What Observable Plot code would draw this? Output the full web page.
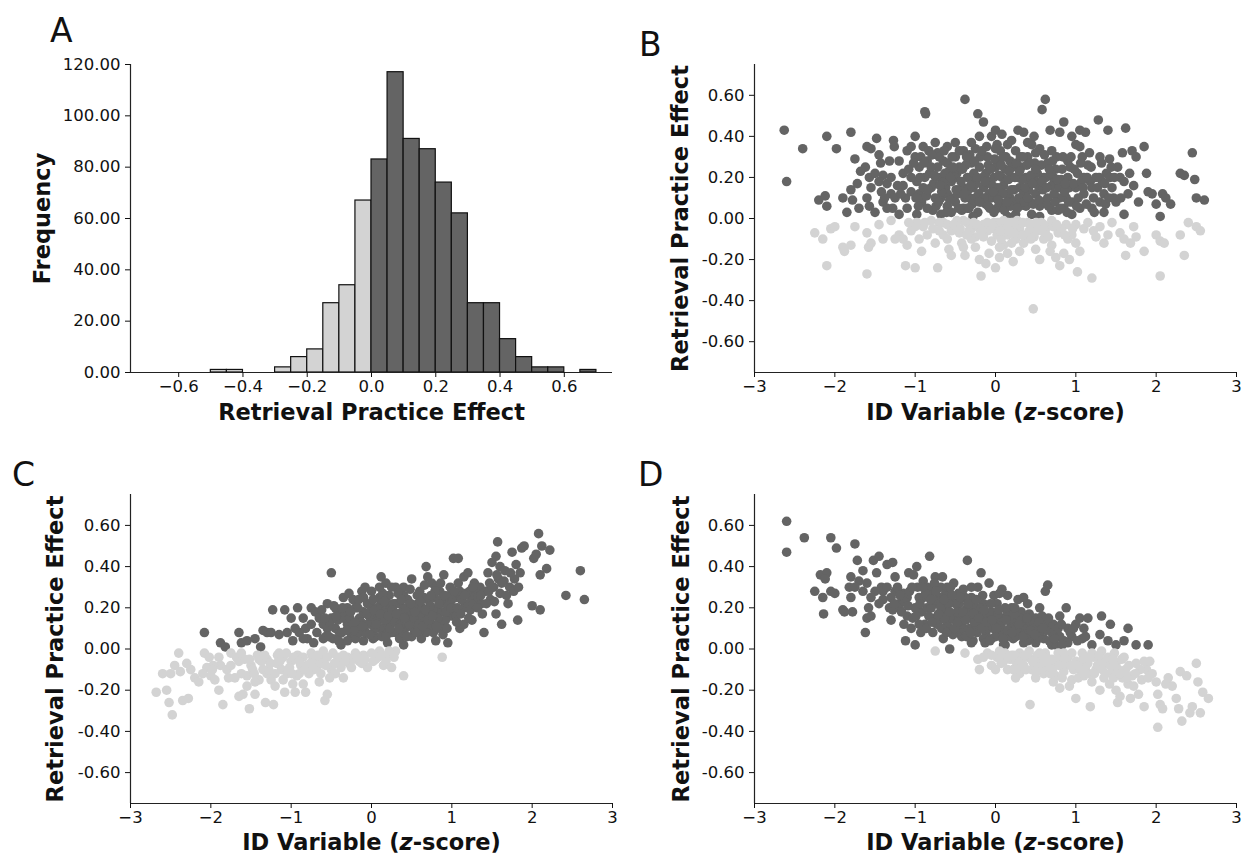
<!DOCTYPE html>
<html><head><meta charset="utf-8">
<script src="https://cdn.jsdelivr.net/npm/d3@7"></script>
<script src="https://cdn.jsdelivr.net/npm/@observablehq/plot@0.6"></script>
<style>
body{margin:0;background:#fff;}
#wrap{position:relative;width:1247px;height:856px;overflow:hidden;background:#fff;}
.panel{position:absolute;}
g[aria-label="y-axis label"], g[aria-label="x-axis label"]{font-weight:bold;font-size:22.5px;}
</style></head><body><div id="wrap"></div>
<script>
// Panel A histogram (bin start, bin width 0.05)
const binStarts = [-0.5,-0.45,-0.4,-0.35,-0.3,-0.25,-0.2,-0.15,-0.1,-0.05,0,0.05,0.1,0.15,0.2,0.25,0.3,0.35,0.4,0.45,0.5,0.55,0.6,0.65];
const binCounts = [1,1,0,0,2,6,9,27,34,67,83,117,91,87,74,62,27,27,13,6,2,2,0,1];
const binWidth = 0.05;
const histTicksX = [-0.6,-0.4,-0.2,0,0.2,0.4,0.6];
const histTicksY = [0,20,40,60,80,100,120];

// Panels B, C, D: [ID variable z-score, retrieval practice effect]
const panelB = [
[-2.63,0.43],[-2.6,0.18],[-2.4,0.34],[-2.2,0.09],[-2.12,0.11],[-2.1,0.4],[-2.1,0.06],[-1.98,0.34],[-1.8,0.42],[-1.75,0.29],
[-1.85,0.03],[-1.8,0.14],[-1.78,0.09],[-1.72,0.17],[-1.68,0.23],[-1.6,0.35],[-1.55,0.34],[-1.57,0.2],[-1.55,0.15],[-1.6,0.1],
[-1.57,0.06],[-1.5,0.03],[-1.48,0.39],[-1.45,0.31],[-1.43,0.27],[-1.4,0.21],[-1.42,0.13],[-1.4,0.08],[-1.35,0.17],[-1.3,0.12],
[-1.28,0.05],[-1.27,0.38],[-1.26,0.35],[-1.2,0.02],[-1.15,0.16],[-1.12,0.1],[-1.1,0.33],[-1.05,0.35],[-1.0,0.4],[-1.0,0.3],
[-0.98,0.18],[-0.95,0.12],[-0.92,0.08],[-0.88,0.52],[-0.87,0.51],[-0.85,0.28],[-0.82,0.22],[-0.8,0.15],[-0.78,0.04],[-0.75,0.37],
[-0.72,0.32],[-0.7,0.2],[-0.68,0.1],[-0.65,0.28],[-0.62,0.15],[-0.6,0.06],[-0.58,0.23],[-0.55,0.18],[-0.52,0.1],[-0.5,0.3],
[-0.48,0.22],[-0.45,0.14],[-0.42,0.04],[-0.4,0.33],[-0.38,0.58],[-0.35,0.2],[-0.32,0.1],[-0.3,0.27],[-0.28,0.15],[-0.25,0.34],
[-0.22,0.51],[-0.2,0.4],[-0.18,0.08],[-0.15,0.47],[-0.12,0.22],[-0.1,0.3],[-0.08,0.12],[-0.05,0.4],[-0.02,0.2],[0.0,0.43],
[0.02,0.05],[0.05,0.28],[0.08,0.41],[0.1,0.16],[0.12,0.24],[0.15,0.36],[0.18,0.1],[0.2,0.2],[0.25,0.33],[0.28,0.43],
[0.3,0.15],[0.32,0.25],[0.35,0.42],[0.38,0.06],[0.4,0.3],[0.42,0.18],[0.45,0.36],[0.48,0.4],[0.5,0.12],[0.52,0.22],
[0.55,0.34],[0.58,0.53],[0.62,0.58],[0.6,0.08],[0.65,0.27],[0.68,0.43],[0.7,0.16],[0.75,0.24],[0.78,0.04],[0.8,0.42],
[0.82,0.19],[0.85,0.47],[0.88,0.1],[0.9,0.28],[0.92,0.15],[0.95,0.4],[1.0,0.36],[1.02,0.22],[1.05,0.43],[1.08,0.3],
[1.1,0.12],[1.12,0.42],[1.15,0.26],[1.18,0.18],[1.2,0.05],[1.25,0.2],[1.28,0.48],[1.3,0.3],[1.35,0.12],[1.38,0.22],
[1.4,0.43],[1.42,0.29],[1.45,0.15],[1.5,0.08],[1.52,0.25],[1.55,0.2],[1.58,0.32],[1.6,0.02],[1.62,0.44],[1.65,0.12],
[1.7,0.33],[1.72,0.16],[1.75,0.3],[1.78,0.08],[1.85,0.35],[1.88,0.22],[1.9,0.13],[1.95,0.12],[2.0,0.07],[2.05,0.01],
[2.08,0.12],[2.12,0.1],[2.18,0.07],[2.3,0.22],[2.35,0.21],[2.45,0.32],[2.48,0.19],[2.5,0.1],[2.6,0.09],
[-1.1,0.05],[-1.05,0.2],[-0.95,0.25],[-0.9,0.15],[-0.85,0.05],[-0.75,0.1],[-0.72,0.25],[-0.65,0.18],[-0.6,0.12],[-0.55,0.03],
[-0.5,0.08],[-0.45,0.25],[-0.4,0.15],[-0.38,0.1],[-0.35,0.05],[-0.3,0.2],[-0.25,0.1],[-0.22,0.03],[-0.2,0.25],[-0.15,0.15],
[-0.12,0.07],[-0.1,0.18],[-0.05,0.1],[-0.02,0.03],[0.0,0.25],[0.03,0.15],[0.05,0.08],[0.08,0.2],[0.12,0.05],[0.15,0.12],
[0.18,0.28],[0.22,0.08],[0.25,0.02],[0.28,0.2],[0.3,0.06],[0.35,0.12],[0.38,0.2],[0.42,0.09],[0.45,0.02],[0.5,0.18],
[0.55,0.06],[0.6,0.2],[0.65,0.1],[0.7,0.04],[0.72,0.2],[0.8,0.1],[0.85,0.05],[0.9,0.2],[0.95,0.08],[1.0,0.15],
[1.05,0.05],[1.1,0.2],[1.2,0.15],[1.3,0.08],[1.35,0.03],[-0.9,0.35],[-0.6,0.35],[-0.3,0.37],[0.2,0.38],[0.5,0.32],
[-1.3,0.2],[-1.2,0.28],[-0.98,0.02],[-0.68,0.02],[-0.28,0.01],[0.15,0.01],[0.55,0.01],[0.95,0.02],
[-1.15,0.22],[-1.05,0.13],[-1.02,0.27],[-0.96,0.06],[-0.93,0.3],[-0.88,0.2],[-0.86,0.11],[-0.83,0.33],[-0.8,0.25],[-0.77,0.17],
[-0.74,0.06],[-0.7,0.3],[-0.67,0.13],[-0.63,0.22],[-0.6,0.27],[-0.57,0.09],[-0.54,0.3],[-0.5,0.2],[-0.47,0.12],[-0.45,0.33],
[-0.43,0.18],[-0.4,0.05],[-0.37,0.26],[-0.34,0.14],[-0.32,0.31],[-0.29,0.07],[-0.27,0.22],[-0.24,0.17],[-0.21,0.12],[-0.19,0.3],
[-0.16,0.2],[-0.14,0.1],[-0.11,0.35],[-0.09,0.26],[-0.07,0.05],[-0.04,0.16],[-0.01,0.29],[0.01,0.11],[0.04,0.21],[0.06,0.33],
[0.09,0.12],[0.11,0.04],[0.13,0.3],[0.16,0.19],[0.19,0.06],[0.21,0.25],[0.23,0.14],[0.26,0.27],[0.29,0.1],[0.31,0.3],
[0.33,0.19],[0.36,0.08],[0.39,0.26],[0.41,0.14],[0.44,0.21],[0.47,0.07],[0.49,0.27],[0.53,0.16],[0.57,0.26],[0.59,0.14],
[0.63,0.2],[0.66,0.06],[0.69,0.22],[0.73,0.12],[0.76,0.3],[0.79,0.15],[0.83,0.24],[0.86,0.13],[0.89,0.03],[0.93,0.25],
[0.97,0.17],[1.03,0.1],[1.07,0.18],[1.13,0.07],[1.17,0.32],[1.22,0.1],[1.27,0.15],[1.33,0.18],[1.37,0.07],[1.43,0.2],
[1.47,0.1],[-1.25,0.1],[-1.35,0.05],[-1.45,0.18],[-1.18,0.12],[0.02,0.36],[-0.5,0.37],[0.4,0.37],[0.7,0.33],[1.05,0.35],
[-1.22,0.16],[-1.08,0.24],[-0.99,0.1],[-0.94,0.2],[-0.89,0.27],[-0.84,0.14],[-0.79,0.31],[-0.76,0.21],[-0.71,0.08],[-0.69,0.16],
[-0.64,0.33],[-0.61,0.03],[-0.56,0.2],[-0.53,0.25],[-0.49,0.14],[-0.46,0.05],[-0.41,0.24],[-0.39,0.12],[-0.36,0.3],[-0.33,0.05],
[-0.31,0.16],[-0.26,0.28],[-0.23,0.2],[-0.2,0.08],[-0.17,0.33],[-0.13,0.18],[-0.09,0.06],[-0.06,0.24],[-0.03,0.13],[0.0,0.34],
[0.03,0.09],[0.07,0.26],[0.1,0.3],[0.14,0.08],[0.17,0.23],[0.2,0.14],[0.24,0.2],[0.27,0.05],[0.3,0.23],[0.34,0.3],
[0.37,0.15],[0.4,0.1],[0.43,0.27],[0.46,0.17],[0.5,0.24],[0.54,0.09],[0.58,0.18],[0.61,0.31],[0.64,0.15],[0.67,0.24],
[0.71,0.28],[0.74,0.08],[0.77,0.19],[0.81,0.05],[0.84,0.3],[0.87,0.17],[0.91,0.08],[0.94,0.3],[0.98,0.24],[1.01,0.06],
[1.06,0.27],[1.09,0.15],[1.14,0.2],[1.19,0.25],[1.23,0.03],[1.29,0.2],[1.32,0.27],[1.36,0.17],[1.41,0.1],[1.44,0.25],
[1.48,0.2],[1.56,0.1],[1.6,0.18],[1.67,0.22],[-1.32,0.28],[-1.38,0.1],[-1.5,0.22],[-1.62,0.25],[-1.7,0.05],[-1.9,0.1],
[-2.25,-0.07],[-2.15,-0.1],[-2.1,-0.23],[-2.05,-0.05],[-2.0,-0.04],[-1.9,-0.14],[-1.88,-0.16],[-1.8,-0.13],[-1.75,-0.04],[-1.6,-0.07],
[-1.6,-0.27],[-1.58,-0.14],[-1.55,-0.12],[-1.45,-0.03],[-1.3,-0.01],[-1.25,-0.1],[-1.2,-0.08],[-1.15,-0.1],[-1.12,-0.23],[-1.1,-0.13],
[-1.05,-0.06],[-1.0,-0.24],[-0.98,-0.02],[-0.92,-0.16],[-0.9,-0.04],[-0.85,-0.08],[-0.75,-0.12],[-0.72,-0.24],[-0.7,-0.06],[-0.65,-0.02],
[-0.6,-0.1],[-0.58,-0.15],[-0.55,-0.18],[-0.5,-0.04],[-0.45,-0.07],[-0.42,-0.12],[-0.38,-0.18],[-0.35,-0.02],[-0.3,-0.05],[-0.25,-0.09],
[-0.2,-0.2],[-0.18,-0.28],[-0.15,-0.03],[-0.12,-0.22],[-0.1,-0.06],[-0.08,-0.17],[-0.05,-0.11],[-0.02,-0.02],[0.0,-0.24],[0.02,-0.08],
[0.05,-0.19],[0.08,-0.04],[0.1,-0.13],[0.12,-0.06],[0.15,-0.17],[0.2,-0.02],[0.22,-0.21],[0.25,-0.1],[0.3,-0.05],[0.35,-0.12],
[0.38,-0.08],[0.45,-0.03],[0.47,-0.44],[0.5,-0.15],[0.52,-0.06],[0.55,-0.2],[0.6,-0.1],[0.65,-0.04],[0.7,-0.13],[0.75,-0.19],
[0.78,-0.07],[0.8,-0.23],[0.85,-0.17],[0.88,-0.03],[0.92,-0.2],[0.95,-0.08],[1.0,-0.12],[1.02,-0.26],[1.05,-0.16],[1.1,-0.05],
[1.2,-0.29],[1.25,-0.09],[1.35,-0.12],[1.4,-0.08],[1.45,-0.02],[1.55,-0.07],[1.6,-0.1],[1.62,-0.18],[1.68,-0.12],[1.72,-0.04],
[1.75,-0.09],[1.85,-0.16],[2.0,-0.08],[2.05,-0.11],[2.05,-0.28],[2.1,-0.12],[2.3,-0.08],[2.35,-0.18],[2.4,-0.02],[2.5,-0.04],
[2.55,-0.06],[-0.8,-0.01],[-0.4,-0.01],[-0.1,-0.02],[0.1,-0.01],[0.4,-0.02],[0.7,-0.01],[1.0,-0.03],[-0.2,-0.05],[0.25,-0.04],
[-0.6,-0.03],[0.6,-0.03],[0.0,-0.05],[0.15,-0.08],[-0.3,-0.1],
[-0.7,-0.02],[-0.55,-0.06],[-0.48,-0.01],[-0.33,-0.06],[-0.27,-0.02],[-0.15,-0.09],[-0.07,-0.05],[0.03,-0.02],[0.07,-0.1],[0.13,-0.03],
[0.18,-0.06],[0.27,-0.01],[0.33,-0.08],[0.42,-0.06],[0.48,-0.09],[0.57,-0.02],[0.62,-0.07],[0.72,-0.04],[0.82,-0.05],[0.9,-0.1],
[1.15,-0.02],[1.3,-0.04],[-1.0,-0.04],[-1.4,-0.1],[-0.95,-0.1],[-0.4,-0.14],[0.05,-0.14],[0.3,-0.16],[0.68,-0.16],
[-0.52,-0.03],[-0.44,-0.05],[-0.36,-0.08],[-0.23,-0.03],[-0.17,-0.06],[-0.04,-0.03],[0.06,-0.06],[0.16,-0.02],[0.23,-0.07],[0.34,-0.02],
[0.44,-0.1],[0.51,-0.02],[0.58,-0.06],[0.66,-0.09],[0.76,-0.03],[0.86,-0.08],[0.96,-0.05],[-0.88,-0.02],[-0.78,-0.05],[-1.08,-0.02],
[1.22,-0.06],[-0.25,-0.14],[0.2,-0.12],[-0.65,-0.08]
];

const panelC = [
[-2.08,0.08],[-1.88,0.03],[-1.82,0.01],[-1.65,0.08],[-1.62,0.03],[-1.55,0.04],[-1.45,0.05],[-1.38,0.01],[-1.35,0.09],[-1.3,0.08],
[-1.25,0.08],[-1.23,0.19],[-1.08,0.19],[-1.05,0.08],[-1.0,0.15],[-0.98,0.04],[-0.92,0.2],[-0.85,0.15],[-0.82,0.1],[-0.8,0.05],
[-0.75,0.2],[-0.7,0.18],[-0.68,0.08],[-0.6,0.12],[-0.55,0.22],[-0.5,0.37],[-0.5,0.15],[-0.48,0.05],[-0.45,0.1],[-0.4,0.18],
[-0.38,0.02],[-0.35,0.25],[-0.3,0.12],[-0.28,0.27],[-0.25,0.06],[-0.2,0.2],[-0.18,0.1],[-0.15,0.15],[-0.12,0.28],[-0.1,0.04],
[-0.08,0.3],[-0.05,0.22],[0.0,0.12],[0.0,0.28],[0.05,0.06],[0.08,0.18],[0.1,0.25],[0.12,0.35],[0.15,0.1],[0.18,0.32],
[0.2,0.03],[0.22,0.2],[0.25,0.15],[0.3,0.3],[0.3,0.08],[0.35,0.22],[0.4,0.02],[0.4,0.26],[0.45,0.16],[0.5,0.34],
[0.52,0.1],[0.55,0.2],[0.6,0.28],[0.62,0.05],[0.65,0.15],[0.68,0.4],[0.7,0.24],[0.72,0.1],[0.75,0.32],[0.78,0.18],
[0.8,0.04],[0.85,0.28],[0.88,0.12],[0.9,0.36],[0.92,0.22],[0.95,0.03],[0.98,0.3],[1.0,0.16],[1.02,0.44],[1.05,0.25],
[1.08,0.44],[1.1,0.1],[1.15,0.35],[1.15,0.2],[1.2,0.37],[1.22,0.28],[1.25,0.14],[1.28,0.32],[1.3,0.22],[1.35,0.3],
[1.38,0.17],[1.4,0.08],[1.45,0.37],[1.48,0.24],[1.5,0.42],[1.52,0.3],[1.55,0.45],[1.55,0.17],[1.57,0.52],[1.6,0.4],
[1.6,0.27],[1.62,0.12],[1.7,0.22],[1.72,0.3],[1.75,0.47],[1.78,0.34],[1.8,0.41],[1.82,0.14],[1.85,0.37],[1.87,0.49],
[1.9,0.5],[2.0,0.21],[2.02,0.44],[2.05,0.46],[2.08,0.56],[2.1,0.36],[2.1,0.19],[2.12,0.5],[2.18,0.39],[2.22,0.48],
[2.42,0.26],[2.6,0.38],[2.65,0.24],
[-0.6,0.05],[-0.55,0.1],[-0.4,0.08],[-0.35,0.15],[-0.3,0.2],[-0.25,0.12],[-0.2,0.05],[-0.15,0.08],[-0.1,0.18],[-0.05,0.12],
[0.0,0.2],[0.02,0.05],[0.05,0.15],[0.1,0.1],[0.12,0.22],[0.15,0.18],[0.2,0.12],[0.22,0.26],[0.25,0.08],[0.28,0.18],
[0.32,0.14],[0.35,0.05],[0.38,0.18],[0.42,0.1],[0.45,0.24],[0.5,0.06],[0.5,0.18],[0.55,0.12],[0.58,0.22],[0.6,0.16],
[0.65,0.25],[0.68,0.08],[0.7,0.18],[0.75,0.12],[0.78,0.25],[0.82,0.2],[0.85,0.1],[0.88,0.18],[0.92,0.14],[0.95,0.22],
[1.0,0.24],[1.05,0.16],[1.1,0.28],[1.15,0.12],[1.2,0.22],[1.3,0.27],[-0.45,0.2],[-0.65,0.15],[-0.9,0.08],[-0.75,0.12],
[0.3,0.22],[0.6,0.09],[-0.1,0.25],[0.4,0.3],[0.8,0.3],[1.25,0.25],
[-0.72,0.03],[-0.62,0.19],[-0.57,0.06],[-0.52,0.13],[-0.47,0.21],[-0.42,0.14],[-0.37,0.08],[-0.33,0.18],[-0.27,0.15],[-0.23,0.24],
[-0.22,0.09],[-0.17,0.2],[-0.13,0.13],[-0.07,0.08],[-0.03,0.16],[0.02,0.24],[0.04,0.1],[0.07,0.2],[0.09,0.14],[0.13,0.06],
[0.14,0.27],[0.17,0.14],[0.19,0.22],[0.23,0.1],[0.27,0.22],[0.29,0.13],[0.33,0.27],[0.36,0.12],[0.39,0.08],[0.43,0.2],
[0.47,0.12],[0.48,0.29],[0.53,0.15],[0.57,0.26],[0.59,0.12],[0.63,0.2],[0.66,0.31],[0.69,0.14],[0.73,0.21],[0.77,0.08],
[0.79,0.28],[0.83,0.15],[0.87,0.24],[0.89,0.07],[0.93,0.18],[0.97,0.26],[1.02,0.2],[1.06,0.13],[1.08,0.32],[1.12,0.24],
[1.18,0.27],[1.23,0.19],[1.27,0.22],[1.33,0.25],[1.37,0.22],[1.42,0.28],[1.47,0.32],[1.53,0.23],[1.58,0.34],[1.65,0.33],
[1.68,0.26],[1.77,0.28],[1.83,0.3],[-0.85,0.05],[-0.95,0.1],[-1.15,0.07],[-0.3,0.04],[0.1,0.3],[0.25,0.3],[0.7,0.35],
[-0.58,0.15],[-0.53,0.06],[-0.44,0.16],[-0.41,0.04],[-0.36,0.2],[-0.31,0.09],[-0.26,0.18],[-0.21,0.13],[-0.16,0.24],[-0.11,0.11],
[-0.06,0.17],[-0.02,0.07],[0.03,0.19],[0.06,0.12],[0.11,0.17],[0.16,0.23],[0.18,0.06],[0.21,0.16],[0.26,0.19],[0.31,0.17],
[0.34,0.1],[0.37,0.24],[0.41,0.15],[0.44,0.06],[0.49,0.22],[0.54,0.18],[0.56,0.08],[0.61,0.23],[0.64,0.11],[0.67,0.19],
[0.71,0.14],[0.74,0.26],[0.76,0.16],[0.81,0.11],[0.84,0.22],[0.86,0.32],[0.91,0.26],[0.94,0.1],[0.99,0.2],[1.03,0.28],
[1.07,0.2],[1.11,0.17],[1.16,0.26],[1.21,0.15],[1.26,0.3],[1.32,0.2],[1.36,0.26],[1.43,0.22],[1.46,0.28],[1.5,0.3],
[1.56,0.36],[1.62,0.32],[1.66,0.38],[1.73,0.37],
[-2.68,-0.21],[-2.6,-0.12],[-2.55,-0.2],[-2.52,-0.26],[-2.5,-0.12],[-2.48,-0.32],[-2.45,-0.08],[-2.4,-0.02],[-2.38,-0.11],[-2.35,-0.25],
[-2.3,-0.07],[-2.28,-0.24],[-2.2,-0.14],[-2.15,-0.16],[-2.08,-0.02],[-2.05,-0.09],[-2.02,-0.04],[-2.0,-0.13],[-1.95,-0.15],[-1.9,-0.2],
[-1.88,-0.08],[-1.85,-0.27],[-1.8,-0.1],[-1.75,-0.02],[-1.7,-0.14],[-1.65,-0.23],[-1.6,-0.22],[-1.58,-0.05],[-1.55,-0.13],[-1.52,-0.29],
[-1.5,-0.08],[-1.45,-0.22],[-1.42,-0.03],[-1.4,-0.15],[-1.35,-0.1],[-1.32,-0.26],[-1.3,-0.05],[-1.25,-0.15],[-1.22,-0.27],[-1.18,-0.07],
[-1.15,-0.02],[-1.12,-0.1],[-1.08,-0.21],[-1.05,-0.12],[-1.0,-0.06],[-0.98,-0.17],[-0.95,-0.21],[-0.92,-0.03],[-0.9,-0.12],[-0.85,-0.17],
[-0.82,-0.21],[-0.8,-0.08],[-0.75,-0.02],[-0.7,-0.06],[-0.65,-0.16],[-0.6,-0.04],[-0.58,-0.25],[-0.55,-0.22],[-0.5,-0.1],[-0.48,-0.02],
[-0.45,-0.12],[-0.4,-0.06],[-0.35,-0.14],[-0.3,-0.04],[-0.25,-0.09],[-0.2,-0.02],[-0.15,-0.06],[-0.1,-0.03],[-0.05,-0.09],[0.0,-0.02],
[0.05,-0.05],[0.1,-0.01],[0.15,-0.08],[0.2,-0.03],[0.25,-0.09],[0.28,-0.04],[0.3,-0.01],[0.4,-0.13],[0.88,-0.04],
[-1.65,-0.06],[-1.4,-0.05],[-1.1,-0.04],[-0.85,-0.04],[-0.6,-0.01],[-0.35,-0.03],[-1.3,-0.12],[-1.55,-0.18],[-1.2,-0.18],[-0.72,-0.1],
[-1.75,-0.08],[-1.68,-0.04],[-1.62,-0.12],[-1.48,-0.1],[-1.45,-0.16],[-1.37,-0.06],[-1.28,-0.1],[-1.2,-0.12],[-1.17,-0.03],[-1.1,-0.15],
[-1.02,-0.09],[-0.97,-0.04],[-0.93,-0.13],[-0.88,-0.08],[-0.78,-0.12],[-0.73,-0.04],[-0.68,-0.09],[-0.62,-0.07],[-0.55,-0.04],[-0.52,-0.14],
[-0.42,-0.04],[-0.38,-0.09],[-0.28,-0.07],[-0.22,-0.05],[-0.12,-0.07],[0.08,-0.04],[0.18,-0.06],[-1.9,-0.04],[-2.1,-0.12],[-1.97,-0.08],
[-1.62,-0.02],[-1.52,-0.05],[-1.46,-0.12],[-1.33,-0.03],[-1.26,-0.07],[-1.14,-0.06],[-1.06,-0.02],[-0.99,-0.12],[-0.9,-0.06],[-0.83,-0.1],
[-0.76,-0.07],[-0.67,-0.03],[-0.63,-0.12],[-0.57,-0.08],[-0.46,-0.07],[-0.33,-0.06],[-0.18,-0.04],[-0.08,-0.05],[0.02,-0.06],[0.13,-0.03],
[0.22,-0.01],[-1.78,-0.14],[-2.25,-0.1],[-1.98,-0.1]
];

const panelD = [
[-2.6,0.62],[-2.6,0.47],[-2.38,0.54],[-2.05,0.54],[-1.98,0.49],[-1.75,0.51],[-2.25,0.28],[-2.18,0.36],[-2.1,0.37],[-2.12,0.34],
[-2.15,0.25],[-2.14,0.17],[-2.05,0.28],[-2.0,0.27],[-1.9,0.19],[-1.88,0.18],[-1.8,0.35],[-1.82,0.3],[-1.8,0.25],[-1.78,0.18],
[-1.72,0.43],[-1.7,0.33],[-1.65,0.38],[-1.6,0.32],[-1.58,0.2],[-1.6,0.15],[-1.62,0.08],[-1.55,0.16],[-1.52,0.43],[-1.48,0.37],
[-1.45,0.45],[-1.42,0.3],[-1.4,0.24],[-1.35,0.41],[-1.32,0.2],[-1.28,0.42],[-1.3,0.14],[-1.25,0.28],[-1.2,0.22],[-1.15,0.27],
[-1.12,0.04],[-1.1,0.16],[-1.08,0.37],[-1.05,0.1],[-1.02,0.36],[-1.0,0.02],[-0.98,0.4],[-0.95,0.25],[-0.92,0.18],[-0.9,0.33],
[-0.88,0.12],[-0.85,0.2],[-0.82,0.45],[-0.8,0.28],[-0.78,0.08],[-0.75,0.35],[-0.72,0.22],[-0.7,0.14],[-0.68,0.3],[-0.65,0.05],
[-0.62,0.27],[-0.6,0.18],[-0.58,0.1],[-0.57,0.0],[-0.55,0.24],[-0.52,0.32],[-0.5,0.14],[-0.45,0.22],[-0.42,0.06],[-0.4,0.29],
[-0.38,0.17],[-0.35,0.43],[-0.32,0.1],[-0.3,0.25],[-0.28,0.04],[-0.25,0.19],[-0.22,0.3],[-0.2,0.12],[-0.18,0.37],[-0.15,0.22],
[-0.12,0.08],[-0.1,0.17],[-0.08,0.32],[-0.05,0.05],[-0.02,0.26],[0.0,0.14],[0.02,0.22],[0.05,0.08],[0.08,0.29],[0.1,0.15],
[0.12,0.02],[0.15,0.26],[0.18,0.1],[0.2,0.2],[0.22,0.05],[0.25,0.14],[0.28,0.24],[0.3,0.08],[0.32,0.18],[0.35,0.03],
[0.38,0.12],[0.4,0.22],[0.45,0.06],[0.5,0.15],[0.52,0.1],[0.55,0.2],[0.6,0.05],[0.62,0.28],[0.65,0.31],[0.68,0.12],
[0.7,0.02],[0.75,0.08],[0.8,0.16],[0.85,0.04],[0.88,0.2],[0.9,0.1],[0.95,0.06],[1.0,0.12],[1.05,0.15],[1.08,0.05],
[1.1,0.1],[1.15,0.15],[1.2,0.02],[1.3,0.07],[1.32,0.16],[1.4,0.04],[1.43,0.12],[1.5,0.02],[1.6,0.04],[1.65,0.1],
[1.75,0.02],[1.9,0.02],
[-1.4,0.28],[-1.3,0.25],[-1.2,0.2],[-1.1,0.25],[-1.0,0.2],[-0.95,0.12],[-0.9,0.25],[-0.8,0.2],[-0.75,0.15],[-0.7,0.25],
[-0.65,0.2],[-0.6,0.12],[-0.55,0.15],[-0.5,0.22],[-0.48,0.08],[-0.45,0.15],[-0.4,0.1],[-0.35,0.2],[-0.3,0.15],[-0.25,0.1],
[-0.2,0.2],[-0.15,0.14],[-0.1,0.1],[-0.05,0.18],[0.0,0.06],[0.05,0.15],[0.1,0.08],[0.15,0.18],[0.2,0.12],[0.25,0.06],
[0.3,0.15],[0.35,0.1],[0.4,0.04],[0.45,0.13],[0.5,0.03],[0.55,0.08],[0.6,0.12],[0.7,0.08],[0.75,0.02],[0.8,0.06],
[0.9,0.03],[-0.85,0.3],[-0.6,0.3],[-0.3,0.03],[-0.15,0.05],[0.1,0.02],
[-1.35,0.3],[-1.28,0.19],[-1.22,0.3],[-1.17,0.18],[-1.13,0.23],[-1.07,0.28],[-1.03,0.15],[-0.97,0.3],[-0.93,0.08],[-0.87,0.27],
[-0.83,0.16],[-0.78,0.24],[-0.76,0.32],[-0.73,0.12],[-0.68,0.2],[-0.66,0.35],[-0.63,0.15],[-0.58,0.22],[-0.56,0.3],[-0.53,0.07],
[-0.48,0.18],[-0.46,0.27],[-0.43,0.12],[-0.38,0.25],[-0.36,0.06],[-0.33,0.17],[-0.28,0.22],[-0.26,0.13],[-0.23,0.08],[-0.18,0.16],
[-0.16,0.26],[-0.13,0.03],[-0.08,0.13],[-0.06,0.22],[-0.03,0.1],[0.03,0.17],[0.07,0.11],[0.12,0.2],[0.14,0.06],[0.17,0.14],
[0.23,0.17],[0.27,0.1],[0.33,0.14],[0.37,0.07],[0.42,0.17],[0.47,0.1],[0.53,0.05],[0.58,0.16],[0.63,0.09],[0.67,0.04],
[0.72,0.12],[0.78,0.1],[0.83,0.02],[0.93,0.08],[1.02,0.04],[-1.5,0.28],[-1.45,0.22],[-1.25,0.35],[-0.3,0.3],[0.05,0.27],[0.35,0.25],
[-1.26,0.22],[-1.19,0.26],[-1.14,0.12],[-1.09,0.21],[-1.04,0.3],[-0.99,0.16],[-0.94,0.22],[-0.91,0.3],[-0.86,0.1],[-0.81,0.24],
[-0.79,0.13],[-0.74,0.28],[-0.71,0.17],[-0.67,0.1],[-0.64,0.24],[-0.61,0.08],[-0.57,0.18],[-0.54,0.26],[-0.51,0.1],[-0.47,0.13],
[-0.44,0.25],[-0.41,0.18],[-0.37,0.14],[-0.34,0.22],[-0.31,0.08],[-0.27,0.17],[-0.24,0.24],[-0.21,0.15],[-0.17,0.1],[-0.14,0.19],
[-0.11,0.13],[-0.07,0.04],[-0.04,0.14],[0.01,0.1],[0.04,0.19],[0.09,0.05],[0.13,0.14],[0.16,0.09],[0.21,0.08],[0.24,0.2],
[0.29,0.12],[0.34,0.06],[0.39,0.15],[0.44,0.09],[0.49,0.07],[0.54,0.13],[0.59,0.1],[0.66,0.15],[0.73,0.05],[0.82,0.12],
[0.97,0.1],[1.12,0.06],[-1.55,0.25],[-1.65,0.28],[-1.75,0.3],
[-0.75,-0.01],[-0.38,-0.02],[-0.22,-0.05],[-0.2,-0.1],[-0.1,-0.02],[-0.05,-0.08],[0.0,-0.1],[0.02,-0.04],[0.05,-0.01],[0.1,-0.06],
[0.15,-0.1],[0.2,-0.03],[0.22,-0.1],[0.25,-0.06],[0.3,-0.02],[0.35,-0.08],[0.4,-0.04],[0.43,-0.27],[0.45,-0.1],[0.5,-0.14],
[0.52,-0.03],[0.55,-0.07],[0.6,-0.12],[0.62,-0.02],[0.65,-0.09],[0.7,-0.05],[0.72,-0.16],[0.75,-0.13],[0.78,-0.02],[0.8,-0.19],
[0.82,-0.08],[0.85,-0.11],[0.9,-0.04],[0.92,-0.18],[0.95,-0.15],[1.0,-0.06],[1.0,-0.24],[1.05,-0.1],[1.08,-0.02],[1.1,-0.13],
[1.15,-0.07],[1.18,-0.28],[1.2,-0.16],[1.22,-0.04],[1.25,-0.1],[1.3,-0.2],[1.32,-0.01],[1.35,-0.14],[1.38,-0.07],[1.4,-0.04],
[1.42,-0.17],[1.45,-0.11],[1.5,-0.2],[1.5,-0.07],[1.52,-0.26],[1.55,-0.23],[1.58,-0.14],[1.6,-0.04],[1.62,-0.1],[1.65,-0.17],
[1.68,-0.24],[1.7,-0.13],[1.75,-0.07],[1.78,-0.22],[1.82,-0.15],[1.85,-0.28],[1.88,-0.1],[1.92,-0.06],[1.95,-0.12],[2.0,-0.16],
[2.02,-0.22],[2.02,-0.38],[2.05,-0.27],[2.08,-0.29],[2.12,-0.17],[2.15,-0.14],[2.2,-0.18],[2.25,-0.24],[2.28,-0.29],[2.32,-0.35],
[2.3,-0.11],[2.38,-0.13],[2.42,-0.31],[2.45,-0.28],[2.5,-0.07],[2.52,-0.16],[2.55,-0.31],[2.58,-0.21],[2.65,-0.24],
[0.1,-0.05],[-0.05,-0.03],[0.3,-0.12],[0.6,-0.06],[0.85,-0.02],[1.1,-0.05],[1.3,-0.05],
[0.07,-0.07],[0.12,-0.02],[0.18,-0.05],[0.27,-0.09],[0.33,-0.04],[0.38,-0.1],[0.42,-0.01],[0.48,-0.05],[0.57,-0.1],[0.63,-0.04],
[0.68,-0.12],[0.73,-0.08],[0.77,-0.05],[0.83,-0.14],[0.88,-0.07],[0.97,-0.1],[1.03,-0.14],[1.07,-0.06],[1.12,-0.09],[1.17,-0.12],
[1.27,-0.08],[1.33,-0.1],[1.43,-0.08],[1.47,-0.14],[1.53,-0.1],[1.57,-0.05],[1.63,-0.14],[1.72,-0.18],[1.8,-0.1],[1.9,-0.14],
[0.95,-0.02],[1.2,-0.02],[0.55,-0.02],[-0.15,-0.04],[1.48,-0.02],
[0.08,-0.02],[0.16,-0.04],[0.23,-0.03],[0.31,-0.06],[0.37,-0.03],[0.46,-0.06],[0.53,-0.09],[0.58,-0.03],[0.66,-0.06],[0.71,-0.1],
[0.79,-0.08],[0.87,-0.05],[0.93,-0.08],[1.02,-0.08],[1.09,-0.12],[1.14,-0.04],[1.23,-0.12],[1.29,-0.03],[1.37,-0.12],[1.46,-0.05],
[1.55,-0.12],[1.66,-0.08],[1.74,-0.12],[1.85,-0.06],[0.25,-0.14],[0.5,-0.11]
];

const scatterTicksX = [-3,-2,-1,0,1,2,3];
const scatterTicksY = [-0.6,-0.4,-0.2,0,0.2,0.4,0.6];

const DARK = "#646464", LIGHT = "#d3d3d3", SPINE = "#222";
const W = 623, H = 428;
const TS = 16.5;
const baseStyle = {fontFamily: "DejaVu Sans", fontSize: TS + "px", background: "white", color: "#111"};
const wrap = document.getElementById("wrap");

function place(svg, left, top) {
  const d = document.createElement("div");
  d.className = "panel"; d.style.left = left + "px"; d.style.top = top + "px";
  d.appendChild(svg); wrap.appendChild(d);
}

const fmt1 = d3.format(".1f"), fmt2f = d3.format(".2f"), fmtInt = d3.format("d");
const fmtEffect = d => (Math.abs(d) < 1e-9 ? 0 : d).toFixed(2);

// Panel A
const bins = binStarts.map((s, i) => ({x1: s, x2: s + binWidth, n: binCounts[i]})).filter(d => d.n > 0);
const histA = Plot.plot({
  width: W, height: H, marginLeft: 130, marginRight: 11, marginTop: 64, marginBottom: 56,
  style: baseStyle,
  x: {domain: [-0.75, 0.75]},
  y: {domain: [0, 120]},
  marks: [
    Plot.rectY(bins, {x1: "x1", x2: "x2", y: "n", fill: d => d.x1 < 0 ? LIGHT : DARK, stroke: "#111", strokeWidth: 1.2, inset: 0}),
    Plot.ruleY([0], {stroke: SPINE, strokeWidth: 1.2}),
    Plot.ruleX([-0.75], {stroke: SPINE, strokeWidth: 1.2}),
    Plot.axisX({ticks: histTicksX, tickFormat: fmt1, fontSize: TS, tickSize: 5, tickPadding: 3, label: "Retrieval Practice Effect", labelAnchor: "center", labelOffset: 47, labelArrow: "none"}),
    Plot.axisY({ticks: histTicksY, tickFormat: fmt2f, fontSize: TS, tickSize: 5, tickPadding: 5, label: "Frequency", labelAnchor: "center", labelOffset: 96, labelArrow: "none"})
  ]
});
place(histA, 0, 0);

function scatter(data, mt, mb, ml, yOff, xOff) {
  const svg = Plot.plot({
    width: W, height: H, marginLeft: ml, marginRight: W - ml - 482, marginTop: mt, marginBottom: mb,
    style: baseStyle,
    x: {domain: [-3, 3]},
    y: {domain: [-0.75, 0.75]},
    marks: [
      Plot.dot(data.filter(d => d[1] >= 0), {x: d => d[0], y: d => d[1], r: 4.8, fill: DARK, stroke: null}),
      Plot.dot(data.filter(d => d[1] < 0), {x: d => d[0], y: d => d[1], r: 4.8, fill: LIGHT, stroke: null}),
      Plot.ruleY([-0.75], {stroke: SPINE, strokeWidth: 1.2}),
      Plot.ruleX([-3], {stroke: SPINE, strokeWidth: 1.2}),
      Plot.axisX({ticks: scatterTicksX, tickFormat: fmtInt, fontSize: TS, tickSize: 5, tickPadding: 3, label: "ID Variable (z-score)", labelAnchor: "center", labelOffset: xOff, labelArrow: "none"}),
      Plot.axisY({ticks: scatterTicksY, tickFormat: fmtEffect, fontSize: TS, tickSize: 5, tickPadding: 5, label: "Retrieval Practice Effect", labelAnchor: "center", labelOffset: yOff, labelArrow: "none"})
    ]
  });
  const t = svg.querySelector('g[aria-label="x-axis label"] text');
  if (t) {
    t.textContent = "";
    const ns = "http://www.w3.org/2000/svg";
    const parts = [["ID Variable (", null], ["z", "italic"], ["-score)", null]];
    for (const [s, st] of parts) {
      const ts = document.createElementNS(ns, "tspan");
      ts.textContent = s;
      if (st) ts.setAttribute("font-style", st);
      t.appendChild(ts);
    }
  }
  return svg;
}
place(scatter(panelB, 64, 56, 131, 82, 47), W, 0);
place(scatter(panelC, 66, 53, 130, 83, 46), 0, H);
place(scatter(panelD, 66, 53, 131, 81, 46), W, H);

// Panel letters
const ns = "http://www.w3.org/2000/svg";
const over = document.createElementNS(ns, "svg");
over.setAttribute("width", 1247); over.setAttribute("height", 856);
over.style.position = "absolute"; over.style.left = "0"; over.style.top = "0"; over.style.pointerEvents = "none";
const letters = [["A", 50, 42], ["B", 639, 56], ["C", 12, 486], ["D", 638, 486]];
for (const [s, x, y] of letters) {
  const t = document.createElementNS(ns, "text");
  t.setAttribute("x", x); t.setAttribute("y", y);
  t.setAttribute("font-family", "DejaVu Sans"); t.setAttribute("font-size", 33); t.setAttribute("font-weight", "normal");
  t.setAttribute("fill", "#111");
  t.textContent = s;
  over.appendChild(t);
}
wrap.appendChild(over);
</script></body></html>
